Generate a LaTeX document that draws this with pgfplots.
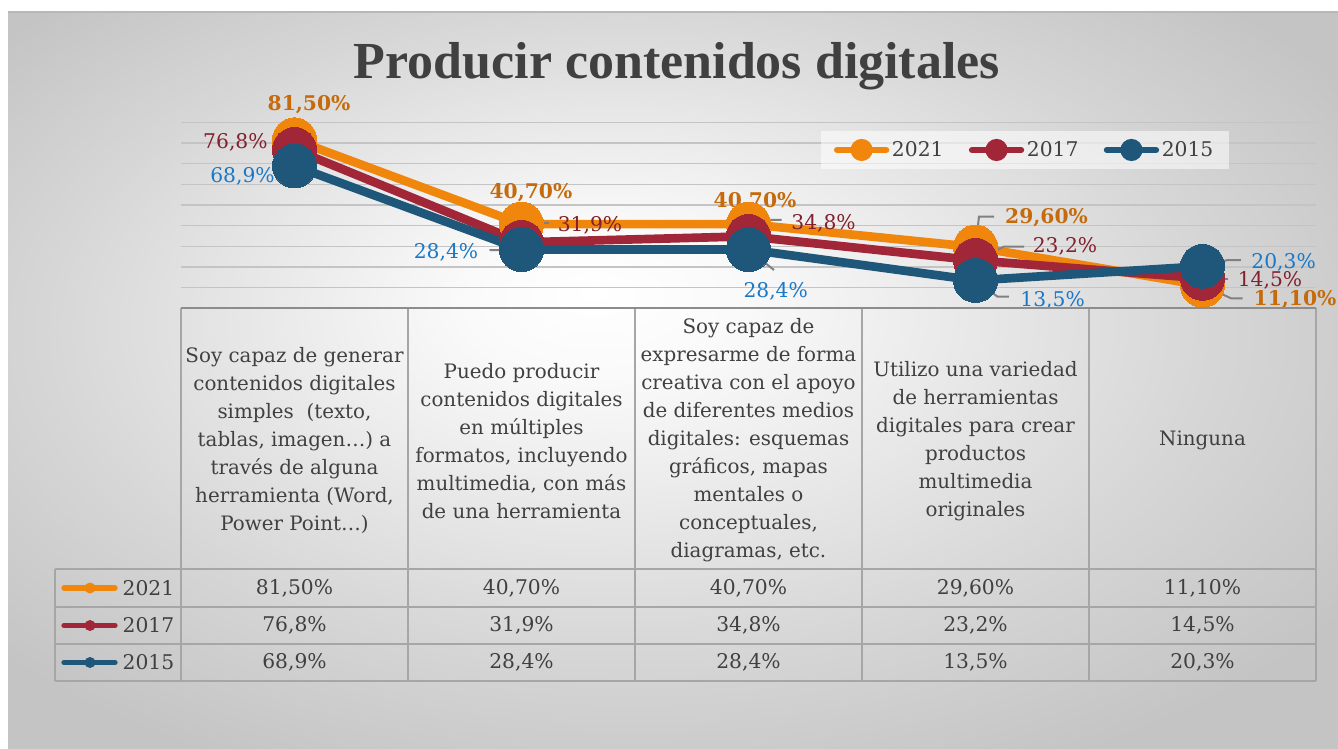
\documentclass[border=0pt]{standalone}
\usepackage{pgfplots}
\pgfplotsset{compat=1.18}
\usepackage{fontspec}
\setmainfont{DejaVu Serif}
\newfontfamily\titlefont{Liberation Serif}
\definecolor{cA}{RGB}{241,134,12}
\definecolor{cB}{RGB}{160,38,56}
\definecolor{cC}{RGB}{30,87,122}
\definecolor{tA}{RGB}{197,107,12}
\definecolor{tB}{RGB}{130,32,45}
\definecolor{tC}{RGB}{25,120,200}
\definecolor{tgray}{RGB}{64,64,64}
\definecolor{gridc}{RGB}{196,196,196}
\definecolor{tline}{RGB}{166,166,166}
\definecolor{lead}{RGB}{128,128,128}
\definecolor{bgA}{RGB}{250,250,250}
\definecolor{bgB}{RGB}{214,214,214}
\definecolor{bgC}{RGB}{196,196,196}
\pgfdeclareradialshading{bgsh}{\pgfpoint{-3bp}{6bp}}{color(0bp)=(white); color(5bp)=(bgA); color(22bp)=(bgB); color(32bp)=(bgC); color(50bp)=(bgC)}
\newcommand{\lbl}{\fontsize{15.2}{18}\selectfont}
\begin{document}
\begin{tikzpicture}[x=0.75pt,y=-0.75pt]
\useasboundingbox (0,0) rectangle (1338,749);
\fill[white] (0,0) rectangle (1338,749);
\shade[shading=bgsh] (8,12) rectangle (1338,749);
\draw[black!28, line width=1.2pt] (8,12) -- (1338,12);
\node[anchor=base, text=tgray, font=\titlefont\bfseries\fontsize{39}{39}\selectfont] at (677,79) {Producir contenidos digitales};

\begin{axis}[
  at={(135.75pt,-231.2pt)}, anchor=south west,
  scale only axis, width=851.25pt, height=139.5pt,
  xmin=-0.5, xmax=4.5, ymin=0, ymax=90,
  axis line style={draw=none},
  xtick=\empty, ytick={10,20,...,90}, yticklabels={}, major tick length=0pt,
  ymajorgrids, grid style={line width=1.1pt, color=gridc},
  clip=false,
  legend columns=3,
  legend style={at={(0.7436,0.851)}, anchor=center, draw=none, fill=white, fill opacity=0.55, text opacity=1, text=tgray, font=\lbl, /tikz/every even column/.append style={column sep=17pt}, inner xsep=10pt, inner ysep=6pt},
  legend image code/.code={\draw[mark=none, line width=4.5pt, line cap=round] (0pt,0pt) -- (37pt,0pt); \fill (18.5pt,0pt) circle (5pt);},
  every node near coord/.style={},
]
\addplot[cA, line width=6.5pt, mark=*, mark size=16.5pt, mark options={line width=0pt}] coordinates {(0,81.5)(1,40.7)(2,40.7)(3,29.6)(4,11.1)};
\addlegendentry{2021}
\addplot[cB, line width=6.5pt, mark=*, mark size=16.5pt, mark options={line width=0pt}] coordinates {(0,76.8)(1,31.9)(2,34.8)(3,23.2)(4,14.5)};
\addlegendentry{2017}
\addplot[cC, line width=6.5pt, mark=*, mark size=16.5pt, mark options={line width=0pt}] coordinates {(0,68.9)(1,28.4)(2,28.4)(3,13.5)(4,20.3)};
\addlegendentry{2015}

% leader lines
\begin{scope}[lead, line width=1.5pt]
\draw (axis cs:0,81.5) -- ++(6.4pt,13.5pt);
\draw (axis cs:1,40.7) -- ++(5.6pt,12pt);
\draw (axis cs:1,31.9) -- ++(10.9pt,14.6pt) -- ++(9.7pt,0pt);
\draw (axis cs:1,28.4) -- ++(-24pt,-0.5pt);
\draw (axis cs:2,34.8) -- ++(16.9pt,12.3pt) -- ++(7.9pt,0pt);
\draw (axis cs:2,28.4) -- ++(19.1pt,-15.3pt);
\draw (axis cs:3,29.6) -- ++(2.6pt,22.8pt) -- ++(11.3pt,0pt);
\draw (axis cs:3,23.2) -- ++(21.4pt,10.3pt) -- ++(15pt,0pt);
\draw (axis cs:3,13.5) -- ++(16.5pt,-12.2pt) -- ++(8.6pt,0pt);
\draw (axis cs:4,20.3) -- ++(18.75pt,4.7pt) -- ++(10.1pt,0pt);
\draw (axis cs:4,14.5) ++(0pt,-0.75pt) -- ++(18.75pt,0pt);
\draw (axis cs:4,11.1) -- ++(21.4pt,-9.7pt) -- ++(8.6pt,0pt);
\end{scope}

% data labels
\begin{scope}[every node/.style={inner sep=0.5pt}]
\node[text=tA, font=\lbl\bfseries, xshift=10.9pt, yshift=26.2pt] at (axis cs:0,81.5) {81,50\%};
\node[text=tB, font=\lbl, xshift=-44.3pt, yshift=5.7pt] at (axis cs:0,76.8) {76,8\%};
\node[text=tC, font=\lbl, xshift=-39pt, yshift=-8.1pt] at (axis cs:0,68.9) {68,9\%};
\node[text=tA, font=\lbl\bfseries, xshift=7.1pt, yshift=23.4pt] at (axis cs:1,40.7) {40,70\%};
\node[text=tB, font=\lbl, xshift=51.4pt, yshift=13.1pt] at (axis cs:1,31.9) {31,9\%};
\node[text=tC, font=\lbl, xshift=-56.6pt, yshift=-2.3pt] at (axis cs:1,28.4) {28,4\%};
\node[text=tA, font=\lbl\bfseries, xshift=4.9pt, yshift=16.9pt] at (axis cs:2,40.7) {40,70\%};
\node[text=tB, font=\lbl, xshift=56.3pt, yshift=10.1pt] at (axis cs:2,34.8) {34,8\%};
\node[text=tC, font=\lbl, xshift=20.4pt, yshift=-31.6pt] at (axis cs:2,28.4) {28,4\%};
\node[text=tA, font=\lbl\bfseries, xshift=53.3pt, yshift=21.8pt] at (axis cs:3,29.6) {29,60\%};
\node[text=tB, font=\lbl, xshift=67.1pt, yshift=10.1pt] at (axis cs:3,23.2) {23,2\%};
\node[text=tC, font=\lbl, xshift=57.8pt, yshift=-14.7pt] at (axis cs:3,13.5) {13,5\%};
\node[text=tC, font=\lbl, xshift=60.8pt, yshift=3.2pt] at (axis cs:4,20.3) {20,3\%};
\node[text=tB, font=\lbl, xshift=50.6pt, yshift=-1.8pt] at (axis cs:4,14.5) {14,5\%};
\node[text=tA, font=\lbl\bfseries, xshift=69.4pt, yshift=-10.6pt] at (axis cs:4,11.1) {11,10\%};
\end{scope}
\end{axis}

% data table grid
\begin{scope}[tline, line width=1.5pt]
\foreach \xx in {181,408,635,862,1089,1316} \draw (\xx,308) -- (\xx,681);
\draw (55,569) -- (55,681);
\foreach \yy in {569,607,644,681} \draw (55,\yy) -- (1316,\yy);
\end{scope}
\draw[black!45, line width=2pt] (181,308) -- (1316,308);

% header cells
\begin{scope}[every node/.style={text=tgray, font=\fontsize{14.9}{21}\selectfont, align=center, anchor=center}]
\node at (294.5,440) {Soy capaz de generar\\contenidos digitales\\simples\ \ (texto,\\tablas, imagen…) a\\través de alguna\\herramienta (Word,\\Power Point…)};
\node at (521.5,441) {Puedo producir\\contenidos digitales\\en múltiples\\formatos, incluyendo\\multimedia, con más\\de una herramienta};
\node at (748.5,440) {Soy capaz de\\expresarme de forma\\creativa con el apoyo\\de diferentes medios\\digitales: esquemas\\gráficos, mapas\\mentales o\\conceptuales,\\diagramas, etc.};
\node at (975.5,441) {Utilizo una variedad\\de herramientas\\digitales para crear\\productos\\multimedia\\originales};
\node at (1202.5,440) {Ninguna};
\end{scope}
\begin{scope}[every node/.style={text=tgray, font=\fontsize{15.2}{18}\selectfont, anchor=center}]
\node at (294.5,588) {81,50\%}; \node at (521.5,588) {40,70\%}; \node at (748.5,588) {40,70\%}; \node at (975.5,588) {29,60\%}; \node at (1202.5,588) {11,10\%};
\node at (294.5,625.5) {76,8\%}; \node at (521.5,625.5) {31,9\%}; \node at (748.5,625.5) {34,8\%}; \node at (975.5,625.5) {23,2\%}; \node at (1202.5,625.5) {14,5\%};
\node at (294.5,662.5) {68,9\%}; \node at (521.5,662.5) {28,4\%}; \node at (748.5,662.5) {28,4\%}; \node at (975.5,662.5) {13,5\%}; \node at (1202.5,662.5) {20,3\%};
\node[anchor=west] at (118,588) {2021};
\node[anchor=west] at (118,625.5) {2017};
\node[anchor=west] at (118,662.5) {2015};
\end{scope}
% legend keys of the data table
\draw[cA, line width=4pt, line cap=round] (64,588) -- (115,588); \fill[cA] (90,588) circle (5.5);
\draw[cB, line width=4pt, line cap=round] (64,625.5) -- (115,625.5); \fill[cB] (90,625.5) circle (5.5);
\draw[cC, line width=4pt, line cap=round] (64,662.5) -- (115,662.5); \fill[cC] (90,662.5) circle (5.5);
\end{tikzpicture}
\end{document}
